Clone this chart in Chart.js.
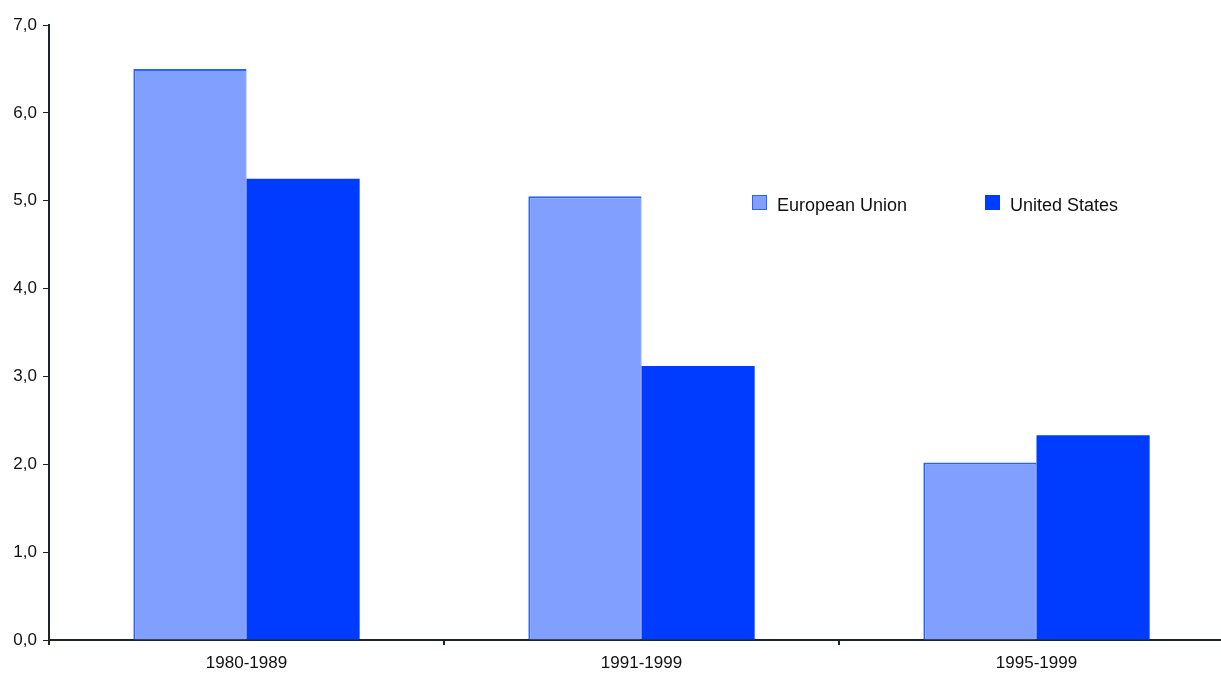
<!DOCTYPE html>
<html>
<head>
<meta charset="utf-8">
<script src="https://cdn.jsdelivr.net/npm/chart.js@4/dist/chart.umd.min.js"></script>
<style>
html,body{margin:0;padding:0;background:#fff;overflow:hidden;}
#wrap{width:1221px;height:674px;position:relative;overflow:hidden;}
canvas{position:absolute;left:0;top:0;}
</style>
</head>
<body>
<div id="wrap"><canvas id="c" width="1234" height="674"></canvas></div>
<script>
const categories = ["1980-1989", "1991-1999", "1995-1999"];
const euValues = [6.5, 5.05, 2.02];
const usValues = [5.25, 3.12, 2.33];
const seriesNames = ["European Union", "United States"];
const yTicks = [0, 1, 2, 3, 4, 5, 6, 7];

const axisColor = '#1c2628';
const fam = '"Liberation Sans", Arial, sans-serif';

const legendPlugin = {
  id: 'innerLegend',
  afterDraw(chart) {
    const ctx = chart.ctx;
    const pos = [{x: 752, y: 195}, {x: 985, y: 195}];
    ctx.save();
    chart.data.datasets.forEach((ds, i) => {
      const p = pos[i];
      ctx.fillStyle = ds.backgroundColor;
      ctx.fillRect(p.x, p.y, 15, 15);
      ctx.strokeStyle = ds.borderColor;
      ctx.lineWidth = 1;
      ctx.strokeRect(p.x + 0.5, p.y + 0.5, 14, 14);
      ctx.fillStyle = '#111';
      ctx.font = '18px ' + fam;
      ctx.textBaseline = 'middle';
      ctx.fillText(ds.label, p.x + 25, p.y + 11);
    });
    ctx.restore();
  }
};

new Chart(document.getElementById('c'), {
  type: 'bar',
  data: {
    labels: categories,
    datasets: [
      {label: seriesNames[0], data: euValues, backgroundColor: '#809fff', borderColor: '#2a62ff', borderWidth: {top: 2, left: 2, right: 1, bottom: 0}},
      {label: seriesNames[1], data: usValues, backgroundColor: '#003cff', borderColor: '#003cff', borderWidth: 0}
    ]
  },
  options: {
    responsive: false,
    animation: false,
    devicePixelRatio: 1,
    layout: {padding: {top: 25, right: 0, left: 0, bottom: 0}},
    categoryPercentage: 0.573,
    barPercentage: 1.0,
    plugins: {legend: {display: false}, tooltip: {enabled: false}},
    scales: {
      x: {
        grid: {display: true, drawOnChartArea: false, drawTicks: true, tickLength: 5, color: axisColor, lineWidth: 2, offset: true},
        border: {display: true, color: axisColor, width: 2},
        ticks: {color: '#111', font: {family: fam, size: 17}, padding: 8, maxRotation: 0},
        afterFit(s) { s.height = 34; }
      },
      y: {
        min: 0, max: 7,
        afterBuildTicks(s) { s.ticks = yTicks.map(v => ({value: v})); },
        grid: {display: true, drawOnChartArea: false, drawTicks: true, tickLength: 6, color: axisColor, lineWidth: 1},
        border: {display: true, color: axisColor, width: 2},
        ticks: {color: '#111', font: {family: fam, size: 17}, padding: 6, callback: v => v.toFixed(1).replace('.', ',')},
        afterFit(s) { s.width = 49; }
      }
    }
  },
  plugins: [legendPlugin]
});
</script>
</body>
</html>
